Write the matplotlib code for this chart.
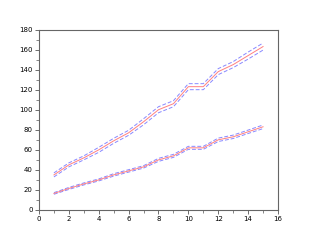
import matplotlib
matplotlib.use('Agg')
import matplotlib.pyplot as plt
from matplotlib.ticker import MultipleLocator

x = [1, 2, 3, 4, 5, 6, 7, 8, 9, 10, 11, 12, 13, 14, 15]

# upper series and its band half-width
upper = [35, 45, 52, 60, 69, 77, 88, 100, 106, 123, 123, 138, 145, 154, 163]
upper_err = [2, 2, 2, 2.5, 2.5, 2.5, 3, 3, 3, 3, 3, 3, 3, 3.5, 3.5]

# lower series and its band half-width
lower = [16.5, 21.5, 26, 30, 35, 39, 43, 50, 54, 62, 62, 70, 73, 78, 83]
lower_err = [0.8, 1, 1, 1, 1.2, 1.2, 1.2, 1.5, 1.5, 1.5, 1.5, 1.7, 1.7, 1.7, 1.8]

fig = plt.figure(figsize=(3.18, 2.4), dpi=100)
ax = fig.add_axes([0.1226, 0.125, 0.7516, 0.752])

for y, e in [(upper, upper_err), (lower, lower_err)]:
    hi = [a + b for a, b in zip(y, e)]
    lo = [a - b for a, b in zip(y, e)]
    ax.plot(x, hi, color='#8888ff', lw=0.7, ls=(0, (4, 2)))
    ax.plot(x, lo, color='#8888ff', lw=0.7, ls=(0, (4, 2)))
    ax.plot(x, y, color='#ff8080', lw=0.7)

ax.set_xlim(0, 16)
ax.set_ylim(0, 180)
ax.xaxis.set_major_locator(MultipleLocator(2))
ax.xaxis.set_minor_locator(MultipleLocator(1))
ax.yaxis.set_major_locator(MultipleLocator(20))
ax.yaxis.set_minor_locator(MultipleLocator(10))
ax.tick_params(which='major', length=3, width=0.6, labelsize=5, pad=1.5, color='#555555')
ax.tick_params(which='minor', length=2, width=0.5, color='#555555')
for s in ax.spines.values():
    s.set_color('#666666')
    s.set_linewidth(0.8)

fig.savefig('out.png', dpi=100)
